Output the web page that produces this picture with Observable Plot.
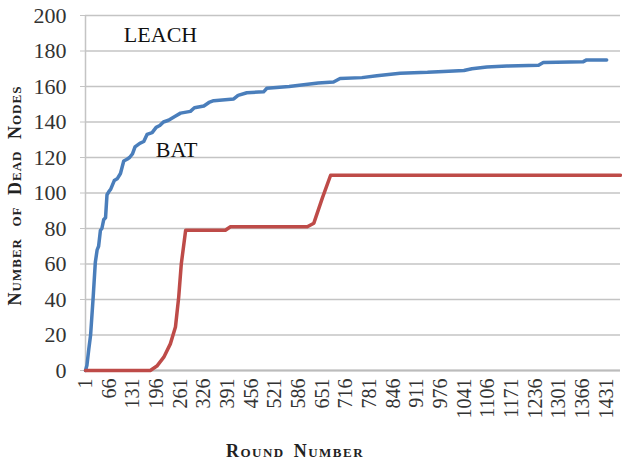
<!DOCTYPE html>
<html>
<head>
<meta charset="utf-8">
<script src="https://cdn.jsdelivr.net/npm/d3@7"></script>
<script src="https://cdn.jsdelivr.net/npm/@observablehq/plot@0.6"></script>
<style>
  html, body { margin: 0; padding: 0; background: #fff; }
  #chart svg { display: block; }
  #chart svg text { font-family: 'Liberation Serif', 'Times New Roman', serif !important; }
</style>
</head>
<body>
<div id="chart"></div>
<script>
// ---- data ----
const xTickLabels = [1, 66, 131, 196, 261, 326, 391, 456, 521, 586, 651, 716, 781, 846, 911, 976, 1041, 1106, 1171, 1236, 1301, 1366, 1431];
const yTickLabels = [0, 20, 40, 60, 80, 100, 120, 140, 160, 180, 200];

const leachRound = [1, 5, 10, 15, 22, 28, 33, 37, 42, 46, 51, 56, 60, 66, 70, 74, 80, 88, 97, 106, 115, 122, 130, 137, 150, 161, 170, 184, 195, 205, 215, 229, 245, 262, 289, 300, 326, 340, 353, 408, 420, 444, 490, 499, 560, 600, 640, 682, 700, 760, 801, 865, 940, 984, 1040, 1062, 1103, 1158, 1245, 1258, 1368, 1377, 1432];
const leachDead  = [0, 3, 12, 20, 41, 61, 68, 70, 79, 80, 85, 86, 99, 101, 102, 104, 107, 108, 111, 118, 119, 120, 122, 126, 128, 129, 133, 134, 137, 138, 140, 141, 143, 145, 146, 148, 149, 151, 152, 153, 155, 156.5, 157, 159, 160, 161, 162, 162.5, 164.5, 165, 166, 167.5, 168, 168.5, 169, 170, 171, 171.5, 172, 173.5, 174, 175, 175];

const batRound = [1, 179, 197, 216, 234, 248, 257, 264, 276, 385, 399, 610, 628, 651, 674, 1470];
const batDead  = [0, 0, 2.5, 7.5, 15, 24.5, 41.5, 60, 79, 79, 81, 81, 83, 97, 110, 110];

const seriesNames = ["LEACH", "BAT"];
const seriesColors = ["#4a7ebb", "#be4b48"];
const labelRound = [207, 251];
const labelDead = [189, 124];

const xDomain = [1, 1470];
const yDomain = [0, 200];

// ---- build tables ----
const leach = leachRound.map((r, i) => ({round: r, dead: leachDead[i]}));
const bat = batRound.map((r, i) => ({round: r, dead: batDead[i]}));
const labels = seriesNames.map((s, i) => ({name: s, round: labelRound[i], dead: labelDead[i]}));

const chart = Plot.plot({
  width: 622,
  height: 461,
  marginLeft: 85,
  marginRight: 2,
  marginTop: 15,
  marginBottom: 91,
  style: {fontFamily: "'Liberation Serif', 'Times New Roman', serif", background: "#fff", color: "#222"},
  x: {domain: xDomain, type: "linear"},
  y: {domain: yDomain},
  marks: [
    Plot.gridY(yTickLabels, {stroke: "#c4c4c4", strokeOpacity: 1, strokeWidth: 1.5}),
    Plot.ruleY([0], {stroke: "#bcbcbc", strokeWidth: 2}),
    Plot.ruleX([xDomain[0]], {stroke: "#c4c4c4", strokeWidth: 1.5}),
    Plot.axisY(yTickLabels, {tickSize: 5, stroke: "#c4c4c4", tickPadding: 14, fontSize: 22, label: null, fill: "#333", tickFormat: d3.format("d"), fontVariant: "normal"}),
    Plot.axisX(xTickLabels, {tickSize: 0, tickPadding: 8, tickRotate: -90, fontSize: 20, label: null, fill: "#333", tickFormat: d3.format("d"), fontVariant: "normal"}),
    Plot.line(leach, {x: "round", y: "dead", stroke: seriesColors[0], strokeWidth: 3.5}),
    Plot.line(bat, {x: "round", y: "dead", stroke: seriesColors[1], strokeWidth: 3.5}),
    Plot.text(labels, {x: "round", y: "dead", text: "name", fontSize: 22, fill: "#111"}),
    Plot.text(["Number of Dead Nodes"], {frameAnchor: "left", rotate: -90, dx: -70, dy: 2.5, textAnchor: "middle", lineAnchor: "middle", fontSize: 18, fontWeight: "bold", fill: "#222"}),
    Plot.text(["Round Number"], {frameAnchor: "bottom", dy: 81, dx: -58, textAnchor: "middle", lineAnchor: "middle", fontSize: 18, fontWeight: "bold", fill: "#222"})
  ]
});
document.getElementById("chart").appendChild(chart);
const sel = d3.select(chart).selectAll("text");
sel.filter(function(){ return this.textContent === "Number of Dead Nodes"; })
  .style("font-variant", "small-caps").style("letter-spacing", "1px").style("word-spacing", "6px");
sel.filter(function(){ return this.textContent === "Round Number"; })
  .style("font-variant", "small-caps").style("letter-spacing", "1.5px").style("word-spacing", "3px");
</script>
</body>
</html>
